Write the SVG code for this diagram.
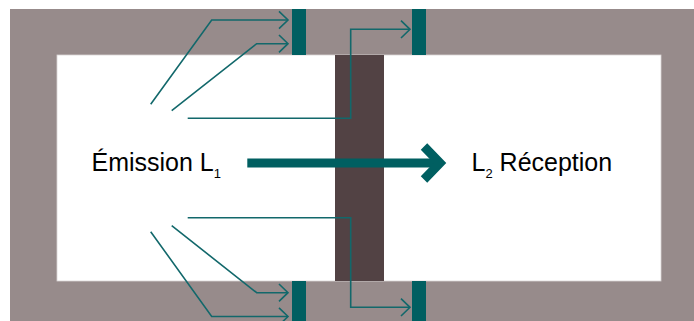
<svg xmlns="http://www.w3.org/2000/svg" width="694" height="321" viewBox="0 0 694 321">
<defs>
<marker id="open" markerUnits="userSpaceOnUse" markerWidth="14" markerHeight="22" refX="10" refY="10" orient="auto">
<path d="M1,1.3 L10,10 L1,18.7" fill="none" stroke="#12686b" stroke-width="1.6"/>
</marker>
</defs>
<style>
.ray{fill:none;stroke:#12686b;stroke-width:1.6;marker-end:url(#open)}
.bar{fill:#005f61}
.lbl{font-family:"Liberation Sans",Arial,sans-serif;font-size:25px;fill:#000}
.sub{font-size:13px}
</style>
<rect x="0" y="0" width="694" height="321" fill="#ffffff"/>
<g id="wall">
<rect x="10" y="9" width="684" height="312" fill="#978b8b"/>
<rect x="57" y="55" width="604" height="226" fill="#ffffff" stroke="#d9d4d4" stroke-width="0.8"/>
</g>
<g id="separation">
<rect x="335" y="55" width="49" height="226" fill="#524244"/>
</g>
<g id="bars">
<rect class="bar" x="292" y="9" width="14" height="46"/>
<rect class="bar" x="412" y="9" width="14" height="46"/>
<rect class="bar" x="292" y="281" width="14" height="40"/>
<rect class="bar" x="412" y="281" width="14" height="40"/>
</g>
<g id="connectors">
<polyline class="ray" points="150.7,104.3 211.7,20 288,20"/>
<polyline class="ray" points="171.7,110.7 256.7,43.7 288,43.7"/>
<polyline class="ray" points="187.7,118.3 350.7,118.3 350.7,29.3 410,29.3"/>
<polyline class="ray" points="150.7,231.7 211.7,316.5 288,316.5"/>
<polyline class="ray" points="171.7,225.7 256.7,292.7 288,292.7"/>
<polyline class="ray" points="187.7,217.7 350.7,217.7 350.7,307.3 410,307.3"/>
<g id="main-arrow" fill="none" stroke="#005f61" stroke-width="9">
<line x1="247.3" y1="163" x2="437" y2="163"/>
<polyline points="424,146.5 440,163 424,179.5" stroke-linejoin="miter"/>
</g>
</g>
<g id="emission">
<text class="lbl" x="91.5" y="171">Émission L<tspan class="sub" dy="7">1</tspan></text>
</g>
<g id="reception">
<text class="lbl" x="471.5" y="171">L<tspan class="sub" dy="7">2</tspan><tspan dy="-7"> Réception</tspan></text>
</g>
</svg>
